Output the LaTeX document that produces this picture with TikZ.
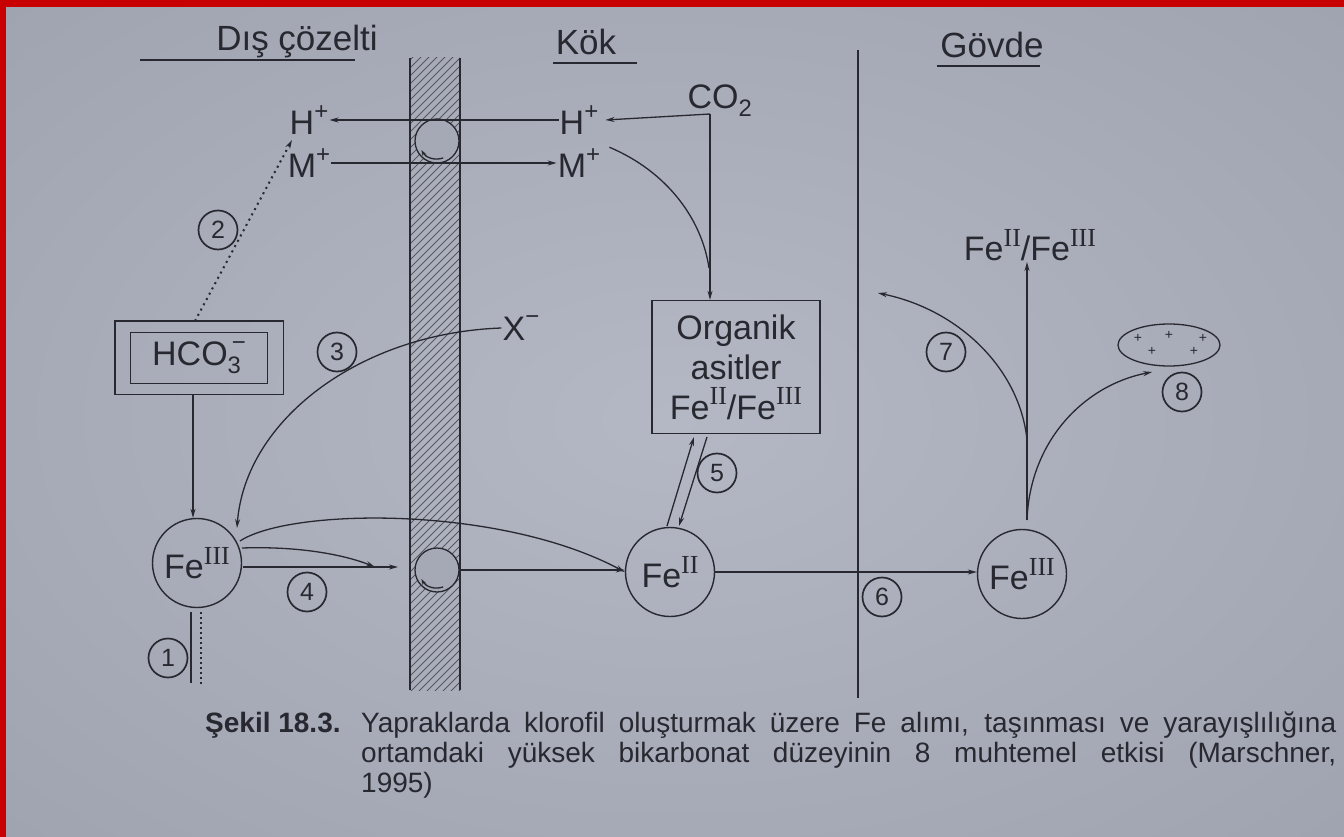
\documentclass[tikz,border=0pt]{standalone}
\usepackage{fontspec}
\setmainfont{Liberation Sans}
\newfontfamily\romfont{Liberation Serif}
\usetikzlibrary{arrows.meta,shapes.geometric}
\definecolor{ink}{RGB}{40,40,48}
\definecolor{bgin}{RGB}{180,184,196}
\definecolor{bgmid}{RGB}{160,164,177}
\definecolor{bgout}{RGB}{120,125,139}
\definecolor{redbar}{RGB}{200,0,0}
\definecolor{hatchc}{RGB}{85,88,98}
\definecolor{fillc}{RGB}{165,169,181}
\pgfdeclareradialshading{bgshade}{\pgfpoint{0bp}{0bp}}{color(0bp)=(bgin); color(35bp)=(bgmid); color(50bp)=(bgout); color(72bp)=(bgout)}
\newcommand\supr[1]{\raisebox{0.42em}{\fontsize{26}{26}\selectfont\romfont #1}}
\newcommand\supp[1]{\raisebox{0.45em}{\fontsize{24}{24}\selectfont #1}}
\begin{document}
\begin{tikzpicture}[x=1pt,y=-1pt,
  ln/.style={draw=ink, line width=1.3pt},
  arr/.style={ln, -{Stealth[length=9pt,width=5pt]}},
  sarr/.style={ln, -{Stealth[length=6pt,width=4pt]}},
  lab/.style={font=\fontsize{34}{40}\selectfont, text=ink, inner sep=1pt},
  head/.style={font=\fontsize{35}{40}\selectfont, text=ink, inner sep=1pt},
  num/.style={circle, draw=ink, line width=1.7pt, minimum size=39pt, inner sep=0pt, font=\fontsize{25}{26}\selectfont, text=ink},
  fe/.style={circle, draw=ink, line width=1.4pt, minimum size=89pt, inner sep=0pt, font=\fontsize{34}{40}\selectfont, text=ink},
  carrier/.style={circle, draw=ink, line width=1.3pt, fill=fillc, minimum size=44pt, inner sep=0pt},
  captext/.style={anchor=base west, inner sep=0pt, text=ink, font=\fontsize{28}{32}\selectfont},
  dots/.style={draw=ink, line width=2pt, dash pattern=on 2pt off 4pt}
]
\useasboundingbox (0,0) rectangle (1344,837);
\shade[shading=bgshade] (0,0) rectangle (1344,837);

% headers
\node[head] (dis) at (297,42) {Dış çözelti};
\draw[ln] (140,60) -- (355,60);
\node[head] (kok) at (586,42) {Kök};
\draw[ln] (553,63) -- (637,63);
\node[head] (govde) at (992,45) {Gövde};
\draw[ln] (937,66) -- (1040,66);

% membrane strip
\begin{scope}
\clip (410,58) rectangle (460,690);
\foreach \y in {60,68,...,760} \draw[hatchc, line width=0.8pt] (410,\y) -- (460,\y-50);
\end{scope}
\draw[ln] (410,58) -- (410,690);
\draw[ln] (460,58) -- (460,690);
\node[carrier] (ca) at (437,141) {};
\node[carrier] (cb) at (437,570) {};
\draw[sarr] ([shift={(70:18)}]ca.center) arc[start angle=70, end angle=150, radius=18];
\draw[sarr] ([shift={(70:18)}]cb.center) arc[start angle=70, end angle=150, radius=18];

% separator
\draw[ln] (858,50) -- (858,698);

% ions
\node[lab] (hL) at (309,120) {H\supp{+}};
\node[lab] (mL) at (309,163) {M\supp{+}};
\node[lab] (hR) at (579,120) {H\supp{+}};
\node[lab] (mR) at (579,163) {M\supp{+}};
\node[lab] (co2) at (720,101) {CO\textsubscript{2}};
\draw[arr] (hR.west) -- (hL.east);
\draw[arr] (mL.east) -- (mR.west);

% organik box
\node[draw=ink, line width=1.3pt, minimum width=168pt, minimum height=133pt, align=center, lab] (org) at (736,367) {Organik\\asitler\\Fe\supr{II}/Fe\supr{III}};
\coordinate (cc) at (710,114);
\draw[arr] (cc) -- ([xshift=6]hR.east);
\draw[arr] (cc) -- (org.north -| cc);
\draw[ln] ([xshift=8]mR.north east) .. controls (668,172) and (702,220) .. (709,268);

% HCO3
\node[draw=ink, line width=1.3pt, minimum width=137pt, minimum height=51pt, lab] (hco) at (199,358) {HCO\rlap{\textsubscript{3}}\kern0.12em\supp{−}};
\draw[ln] ([shift={(-15,-11)}]hco.north west) rectangle ([shift={(15,10)}]hco.south east);
\coordinate (hcotop) at (195,321);
\coordinate (hcobot) at (193,394);

% Fe circles
\node[fe] (fe3a) at (197,563) {Fe\supr{III}};
\node[fe] (fe2) at (670,572) {Fe\supr{II}};
\node[fe] (fe3b) at (1022,574) {Fe\supr{III}};

% X-
\node[lab] (xm) at (521,328) {X\supp{−}};

% numbered circles
\node[num] (n1) at (168,658) {1};
\node[num] (n2) at (218,230) {2};
\node[num] (n3) at (337,352) {3};
\node[num] (n4) at (307,592) {4};
\node[num] (n5) at (717,473) {5};
\node[num] (n6) at (882,597) {6};
\node[num] (n7) at (946,352) {7};
\node[num] (n8) at (1182,392) {8};

% arrows left part
\draw[dots, -{Stealth[length=9pt,width=5pt]}] (hcotop) -- (292,140);
\draw[arr] (hcobot) -- (fe3a.north -| hcobot);
\draw[arr] (xm.west) .. controls (360,333) and (245,420) .. (237,528);
\draw[arr] (240,541) .. controls (290,508) and (500,505) .. (fe2.west);
\draw[arr] (242,548) .. controls (300,546) and (345,555) .. (375,567);
\draw[arr] (243,567) -- (398,567);
\draw[arr] (cb.east) -- (fe2.west |- cb.east);
\draw[ln] (191,612) -- (191,683);
\draw[draw=ink, line width=1.6pt, dash pattern=on 2pt off 3pt] (201,612) -- (201,685);

% 5 double arrows
\draw[arr] (667,526) -- (694,437);
\draw[arr] (707,437) -- (679,526);

% 6
\draw[arr] (fe2.east) -- (fe3b.west |- fe2.east);

% right part
\node[lab] (fefe) at (1030,245) {Fe\supr{II}/Fe\supr{III}};
\coordinate (vb) at (1027,520);
\coordinate (v7) at (1027,440);
\draw[arr] (vb) -- (fefe.south -| vb);
\coordinate (t7) at (878,293);
\draw[arr] (v7) .. controls (1020,370) and (960,310) .. (t7);
\node[ellipse, draw=ink, line width=1.3pt, minimum width=102pt, minimum height=42pt, inner sep=0pt] (e8) at (1169,345) {};
\foreach \px/\py in {1138/338, 1169/335, 1203/338, 1152/351, 1194/351}
  \node[text=ink, font=\fontsize{14}{14}\selectfont, inner sep=0pt] at (\px,\py) {+};
\coordinate (t8) at (1152,372);
\draw[arr] (vb) .. controls (1030,440) and (1085,385) .. (t8);

% caption
\node[captext, font=\fontsize{28}{32}\selectfont\bfseries] (cap0) at (205,732) {Şekil 18.3.};
\node[captext] (cap1) at (361,732) {\makebox[975pt][s]{Yapraklarda klorofil oluşturmak üzere Fe alımı, taşınması ve yarayışlılığına}};
\node[captext] (cap2) at (361,762) {\makebox[975pt][s]{ortamdaki yüksek bikarbonat düzeyinin 8 muhtemel etkisi (Marschner,}};
\node[captext] (cap3) at (361,792) {1995)};

% red frame
\fill[redbar] (0,0) rectangle (1344,7);
\fill[redbar] (0,0) rectangle (6,837);
\end{tikzpicture}
\end{document}
